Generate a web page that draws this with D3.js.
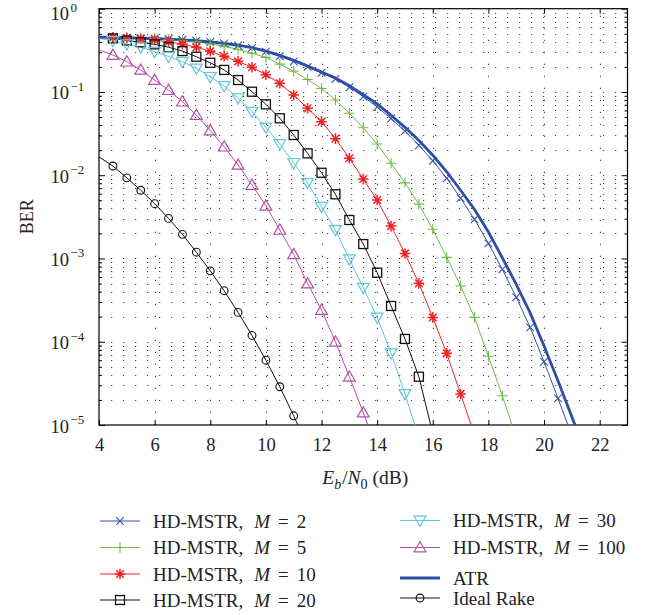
<!DOCTYPE html>
<html><head><meta charset="utf-8">
<script src="https://cdn.jsdelivr.net/npm/d3@7"></script>
<style>body{margin:0;background:#fff}svg{display:block}</style>
</head><body>
<svg id="chart" width="656" height="615"></svg>
<script>
// ---- data ----
const ebn0 = [4,4.5,5,5.5,6,6.5,7,7.5,8,8.5,9,9.5,10,10.5,11,11.5,12,12.5,13,13.5,14,14.5,15,15.5,16,16.5,17,17.5,18,18.5,19,19.5,20,20.5,21,21.5];
const berM2 = [0.46,0.455,0.45,0.445,0.44,0.432,0.423,0.412,0.398,0.382,0.362,0.338,0.305,0.268,0.232,0.2,0.17,0.143,0.114,0.088,0.066,0.048,0.0338,0.0229,0.0149,0.0092,0.0053,0.00295,0.00152,7.4e-4,3.42e-4,1.49e-4,5.75e-5,2.09e-5,7.5e-6];
const berM5 = [0.46,0.455,0.45,0.445,0.437,0.427,0.415,0.40,0.38,0.353,0.324,0.292,0.26,0.216,0.177,0.141,0.11,0.08,0.0556,0.0372,0.0237,0.0139,0.0081,0.0045,0.00224,0.00103,4.67e-4,1.96e-4,6.7e-5,2.25e-5,7e-6];
const berM10 = [0.46,0.452,0.445,0.435,0.42,0.40,0.375,0.344,0.308,0.268,0.233,0.198,0.161,0.127,0.092,0.0636,0.044,0.0275,0.016,0.009,0.00504,0.00245,0.00115,5.03e-4,1.96e-4,7.26e-5,2.36e-5,7.6e-6];
const berM20 = [0.46,0.44,0.415,0.395,0.373,0.345,0.31,0.265,0.224,0.184,0.139,0.1007,0.071,0.0483,0.0304,0.0183,0.0107,0.0059,0.0029,0.00149,6.75e-4,2.69e-4,1.08e-4,3.8e-5,7.9e-6];
const berM30 = [0.44,0.41,0.375,0.345,0.305,0.267,0.231,0.192,0.152,0.118,0.084,0.058,0.0376,0.0237,0.0141,0.0081,0.0042,0.0022,9.8e-4,4.46e-4,1.96e-4,7.3e-5,2.36e-5,7e-6];
const berM100 = [0.32,0.278,0.231,0.184,0.139,0.105,0.0764,0.0529,0.0343,0.022,0.0133,0.00763,0.0043,0.0022,0.00112,5.0e-4,2.4e-4,1.0e-4,3.8e-5,1.41e-5,5e-6];
const berATR = [0.455,0.452,0.448,0.444,0.439,0.432,0.423,0.412,0.398,0.383,0.364,0.341,0.31,0.275,0.24,0.205,0.173,0.147,0.119,0.093,0.072,0.0525,0.0376,0.0261,0.0174,0.011,0.0066,0.00388,0.00208,0.00102,4.88e-4,2.22e-4,8.9e-5,3.4e-5,1.26e-5,4.5e-6];
const berRake = [0.0166,0.0129,0.0093,0.0066,0.00455,0.00303,0.00195,0.00119,7.1e-4,4.1e-4,2.25e-4,1.19e-4,6.0e-5,2.88e-5,1.29e-5,5.5e-6];
const xTicks = [4,6,8,10,12,14,16,18,20,22];
const yDecades = [0,-1,-2,-3,-4,-5];
const legendLabels = [["HD-MSTR,","M","=","2"],["HD-MSTR,","M","=","5"],["HD-MSTR,","M","=","10"],["HD-MSTR,","M","=","20"],["HD-MSTR,","M","=","30"],["HD-MSTR,","M","=","100"],["ATR"],["Ideal Rake"]];

const series = [
  {vals: berM2,  color:"#3553a8", marker:"x",    w:1},
  {vals: berM5,  color:"#6dbb45", marker:"plus", w:1},
  {vals: berM10, color:"#ee2426", marker:"star", w:1},
  {vals: berM20, color:"#111111", marker:"square", w:1},
  {vals: berM30, color:"#5fc7d6", marker:"tridown", w:1},
  {vals: berM100,color:"#b44fa8", marker:"triup", w:1},
  {vals: berATR, color:"#2f4ea3", marker:null, w:2.8},
  {vals: berRake,color:"#111111", marker:"circle", w:1}
];
series.forEach((s,i)=>{ s.label = legendLabels[i]; s.pts = s.vals.map((v,j)=>({x:ebn0[j], y:v})); });

// ---- layout ----
const L=99, R=627.5, T=8.7, B=425;
const FONT = "'Liberation Serif','Times New Roman',serif";
const x = d3.scaleLinear().domain([4,23]).range([L,R]);
const y = d3.scaleLog().domain([1e-5,1]).range([B,T]);
const svg = d3.select("#chart").style("font-family",FONT);

const minorY = [];
for (let e=-5;e<0;e++) for (let k=2;k<=9;k++) minorY.push(k*Math.pow(10,e));
const majorY = yDecades.map(e=>Math.pow(10,e));

// grid
const grid = svg.append("g").attr("stroke","#444").attr("stroke-width",1.1).attr("stroke-dasharray","1.2,10.8");
grid.selectAll("line.h").data(majorY.concat(minorY).filter(v=>v<1 && v>1e-5)).enter().append("line")
  .attr("x1",L).attr("x2",R).attr("y1",d=>Math.round(y(d))+0.5).attr("y2",d=>Math.round(y(d))+0.5);
grid.selectAll("line.v").data(xTicks.filter(t=>t>4)).enter().append("line")
  .attr("y1",B).attr("y2",T).attr("x1",d=>Math.round(x(d))+0.5).attr("x2",d=>Math.round(x(d))+0.5);

// axes (inward ticks)
function styleAxis(g){ g.select(".domain").remove(); g.selectAll(".tick line").attr("stroke","#000"); }
svg.append("g").attr("transform",`translate(0,${B})`)
  .call(d3.axisBottom(x).tickValues(xTicks).tickSize(-5).tickPadding(13).tickFormat(d3.format("d")))
  .call(styleAxis).call(g=>g.selectAll("text").attr("font-size",18.5).attr("font-family",FONT).attr("fill","#222"));
svg.append("g").attr("transform",`translate(0,${T})`)
  .call(d3.axisTop(x).tickValues(xTicks).tickSize(-5).tickFormat(""))
  .call(styleAxis);
svg.append("g").attr("transform",`translate(${L},0)`)
  .call(d3.axisLeft(y).tickValues(majorY).tickSize(-6).tickFormat("")).call(styleAxis);
svg.append("g").attr("transform",`translate(${L},0)`)
  .call(d3.axisLeft(y).tickValues(minorY).tickSize(-3).tickFormat("")).call(styleAxis);
svg.append("g").attr("transform",`translate(${R},0)`)
  .call(d3.axisRight(y).tickValues(majorY).tickSize(-6).tickFormat("")).call(styleAxis);
svg.append("g").attr("transform",`translate(${R},0)`)
  .call(d3.axisRight(y).tickValues(minorY).tickSize(-3).tickFormat("")).call(styleAxis);

// y tick labels 10^e
const yl = svg.append("g").attr("fill","#222").attr("font-size",18.5);
yDecades.forEach(e=>{
  const t = yl.append("text").attr("x",50.5).attr("y",y(Math.pow(10,e))+7.5+(e===0?4:0));
  t.append("tspan").text("10");
  t.append("tspan").attr("font-size",13).attr("dx",1.5).attr("dy",-8.5).text(e===0?"0":"\u2212"+(-e));
});

// frame
svg.append("rect").attr("x",L).attr("y",T).attr("width",R-L).attr("height",B-T)
  .attr("fill","none").attr("stroke","#000").attr("stroke-width",1.2);

// axis titles
svg.append("text").attr("transform",`translate(33,${(T+B)/2}) rotate(-90)`).attr("text-anchor","middle")
  .attr("font-size",18).attr("fill","#222").text("BER");
const xt = svg.append("text").attr("x",(L+R)/2+2).attr("y",484).attr("text-anchor","middle").attr("font-size",19.5).attr("fill","#222");
xt.append("tspan").attr("font-style","italic").text("E");
xt.append("tspan").attr("font-style","italic").attr("font-size",14).attr("dy",4.5).text("b");
xt.append("tspan").attr("dy",-4.5).attr("dx",1).text("/");
xt.append("tspan").attr("font-style","italic").text("N");
xt.append("tspan").attr("font-size",14).attr("dy",4.5).text("0");
xt.append("tspan").attr("dy",-4.5).text(" (dB)");

// clip
svg.append("clipPath").attr("id","clip").append("rect").attr("x",L).attr("y",T).attr("width",R-L).attr("height",B-T);
const plot = svg.append("g").attr("clip-path","url(#clip)");
const line = d3.line().x(d=>x(d.x)).y(d=>y(d.y));

function drawMarker(g, type, cx, cy, color){
  const m = g.append("g").attr("transform",`translate(${cx},${cy})`).attr("stroke",color).attr("fill","none").attr("stroke-width",1.1);
  if (type==="x"){ const s=3.8; m.append("path").attr("d",`M${-s},${-s}L${s},${s}M${-s},${s}L${s},${-s}`); }
  else if (type==="plus"){ const s=5.2; m.append("path").attr("d",`M${-s},0L${s},0M0,${-s}L0,${s}`); }
  else if (type==="star"){ const s=5.3, d=3.8; m.attr("stroke-width",1.5).append("path").attr("d",`M${-s},0L${s},0M0,${-s}L0,${s}M${-d},${-d}L${d},${d}M${-d},${d}L${d},${-d}`); }
  else if (type==="square"){ const s=4.5; m.append("rect").attr("x",-s).attr("y",-s).attr("width",2*s).attr("height",2*s).attr("stroke-width",1.3); }
  else if (type==="tridown"){ m.append("path").attr("d","M-5.9,-4.3L5.9,-4.3L0,5.9Z").attr("stroke-width",1.2); }
  else if (type==="triup"){ m.append("path").attr("d","M-5.9,4.3L5.9,4.3L0,-5.9Z").attr("stroke-width",1.2); }
  else if (type==="circle"){ m.append("circle").attr("r",3.9); }
}

series.forEach(s=>{
  plot.append("path").datum(s.pts).attr("d",line).attr("fill","none").attr("stroke",s.color).attr("stroke-width",s.w);
});
series.forEach(s=>{
  if (!s.marker) return;
  s.pts.filter(p=>p.x>=4.5 && p.y>=1e-5).forEach(p=>drawMarker(plot, s.marker, x(p.x), y(p.y), s.color));
});

// legend
const leg = svg.append("g").attr("font-size",19).attr("fill","#222");
const legPos = [[100,521],[100,547.5],[100,574],[100,600],[400,520.5],[400,547.5],[400,578],[400,598]];
series.forEach((s,i)=>{
  const [lx,ly] = legPos[i];
  leg.append("line").attr("x1",lx).attr("x2",lx+40).attr("y1",ly).attr("y2",ly).attr("stroke",s.color).attr("stroke-width",s.w);
  if (s.marker) drawMarker(leg, s.marker, lx+20, ly, s.color);
  const t = leg.append("text").attr("x",lx+53).attr("y",ly+6.5);
  t.append("tspan").text(s.label[0]);
  if (s.label.length>1){
    t.append("tspan").attr("dx",11).attr("font-style","italic").text(s.label[1]);
    t.append("tspan").attr("dx",8).text(s.label[2]);
    t.append("tspan").attr("dx",8).text(s.label[3]);
  }
});
</script>
</body></html>
